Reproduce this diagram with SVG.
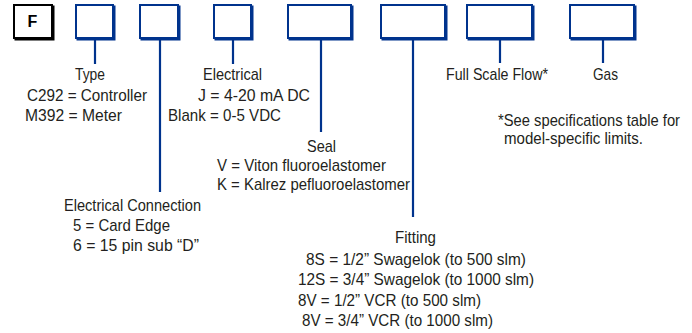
<svg xmlns="http://www.w3.org/2000/svg" width="692" height="333" viewBox="0 0 692 333">
<style>
.bx{fill:#fff;stroke:#00338d;stroke-width:2}
.sh{fill:none;stroke:#00338d;stroke-width:2}
.bk{fill:#fff;stroke:#000;stroke-width:2}
.shk{fill:none;stroke:#000;stroke-width:2}
.ln{stroke:#00338d;stroke-width:2.2;fill:none}
text{font-family:"Liberation Sans",Arial,sans-serif;font-size:17px;fill:#231f20}
</style>
<rect width="692" height="333" fill="#fff"/>
<g id="node-F">
<rect class="shk" x="15.5" y="6.5" width="38" height="33"/>
<rect class="bk" x="14" y="5" width="38" height="33"/>
<text x="32.5" y="27" text-anchor="middle" style="font-weight:bold;font-size:16px;fill:#000">F</text>
</g>
<g id="connectors">
<line class="ln" x1="95" y1="40" x2="95" y2="64"/>
<line class="ln" x1="160" y1="40" x2="160" y2="192"/>
<line class="ln" x1="233" y1="40" x2="233" y2="64"/>
<line class="ln" x1="321" y1="40" x2="321" y2="132"/>
<line class="ln" x1="413" y1="40" x2="413" y2="217"/>
<line class="ln" x1="500" y1="40" x2="500" y2="63"/>
<line class="ln" x1="603" y1="40" x2="603" y2="63"/>
</g>
<g id="node-type">
<rect class="sh" x="77.5" y="6.5" width="37" height="33"/>
<rect class="bx" x="76" y="5" width="37" height="33"/>
<text x="75" y="80" textLength="30" lengthAdjust="spacingAndGlyphs">Type</text>
<text x="27" y="100.5" textLength="120" lengthAdjust="spacingAndGlyphs">C292 = Controller</text>
<text x="25" y="120.5" textLength="97" lengthAdjust="spacingAndGlyphs">M392 = Meter</text>
</g>
<g id="node-elec-conn">
<rect class="sh" x="141.5" y="6.5" width="38" height="33"/>
<rect class="bx" x="140" y="5" width="38" height="33"/>
<text x="64" y="211" textLength="137" lengthAdjust="spacingAndGlyphs">Electrical Connection</text>
<text x="73" y="231" textLength="97" lengthAdjust="spacingAndGlyphs">5 = Card Edge</text>
<text x="73" y="251" textLength="126" lengthAdjust="spacingAndGlyphs">6 = 15 pin sub “D”</text>
</g>
<g id="node-electrical">
<rect class="sh" x="215.5" y="6.5" width="37" height="33"/>
<rect class="bx" x="214" y="5" width="37" height="33"/>
<text x="203" y="80" textLength="59" lengthAdjust="spacingAndGlyphs">Electrical</text>
<text x="198" y="100.5" textLength="112" lengthAdjust="spacingAndGlyphs">J = 4-20 mA DC</text>
<text x="168" y="120.5" textLength="113" lengthAdjust="spacingAndGlyphs">Blank = 0-5 VDC</text>
</g>
<g id="node-seal">
<rect class="sh" x="289.5" y="6.5" width="63" height="33"/>
<rect class="bx" x="288" y="5" width="63" height="33"/>
<text x="307" y="151.5" textLength="29" lengthAdjust="spacingAndGlyphs">Seal</text>
<text x="217" y="171" textLength="169" lengthAdjust="spacingAndGlyphs">V = Viton fluoroelastomer</text>
<text x="217" y="190" textLength="193" lengthAdjust="spacingAndGlyphs">K = Kalrez pefluoroelastomer</text>
</g>
<g id="node-fitting">
<rect class="sh" x="382.5" y="6.5" width="64" height="33"/>
<rect class="bx" x="381" y="5" width="64" height="33"/>
<text x="395" y="243" textLength="41" lengthAdjust="spacingAndGlyphs">Fitting</text>
<text x="306" y="265" textLength="220" lengthAdjust="spacingAndGlyphs">8S = 1/2” Swagelok (to 500 slm)</text>
<text x="298" y="285" textLength="236" lengthAdjust="spacingAndGlyphs">12S = 3/4” Swagelok (to 1000 slm)</text>
<text x="298" y="306" textLength="183" lengthAdjust="spacingAndGlyphs">8V = 1/2” VCR (to 500 slm)</text>
<text x="302" y="326" textLength="191" lengthAdjust="spacingAndGlyphs">8V = 3/4” VCR (to 1000 slm)</text>
</g>
<g id="node-flow">
<rect class="sh" x="468.5" y="6.5" width="65" height="33"/>
<rect class="bx" x="467" y="5" width="65" height="33"/>
<text x="446" y="80" textLength="102" lengthAdjust="spacingAndGlyphs">Full Scale Flow*</text>
</g>
<g id="node-gas">
<rect class="sh" x="571.5" y="6.5" width="64" height="33"/>
<rect class="bx" x="570" y="5" width="64" height="33"/>
<text x="593" y="80" textLength="25" lengthAdjust="spacingAndGlyphs">Gas</text>
</g>
<g id="footnote">
<text x="498" y="126" textLength="182" lengthAdjust="spacingAndGlyphs">*See specifications table for</text>
<text x="504" y="144" textLength="139" lengthAdjust="spacingAndGlyphs">model-specific limits.</text>
</g>
</svg>
